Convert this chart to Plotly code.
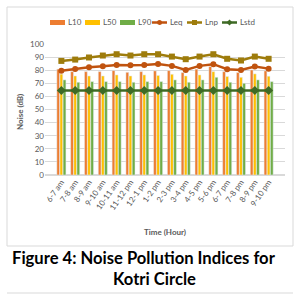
import plotly.graph_objects as go

categories = ["6-7 am", "7-8 am", "8-9 am", "9-10 am", "10-11 am", "11-12 pm", "12-1 pm", "1-2 pm",
              "2-3 pm", "3-4 pm", "4-5 pm", "5-6 pm", "6-7 pm", "7-8 pm", "8-9 pm", "9-10 pm"]
L10 = [80.8, 78.9, 78.9, 78.9, 79.7, 78.4, 78.9, 79.5, 79.7, 78.2, 80.8, 82.8, 78.9, 78.2, 80.2, 79.5]
L50 = [77.0, 75.6, 75.6, 75.6, 76.4, 75.6, 76.4, 76.0, 76.9, 75.6, 76.4, 78.9, 75.2, 74.6, 77.2, 75.4]
L90 = [72.6, 70.8, 71.3, 71.3, 71.3, 70.8, 71.3, 71.3, 72.6, 70.8, 72.6, 74.6, 70.8, 70.0, 72.6, 71.3]
Leq = [79.5, 81.0, 82.3, 83.0, 84.0, 83.8, 84.0, 84.8, 83.3, 80.2, 83.3, 84.6, 80.8, 80.2, 82.8, 81.2]
Lnp = [87.1, 88.1, 89.7, 91.2, 92.2, 91.2, 92.2, 92.2, 90.4, 88.4, 90.4, 92.2, 88.7, 87.4, 90.4, 88.7]
Lstd = [64.5] * 16

bar_names = ["L10", "L50", "L90"]
bar_values = [L10, L50, L90]
bar_colors = ["#ED7D31", "#FFC000", "#70AD47"]
line_names = ["Leq", "Lnp", "Lstd"]
line_values = [Leq, Lnp, Lstd]
line_colors = ["#C0530F", "#9E7C0C", "#3E6A25"]
line_symbols = ["circle", "square", "diamond"]

W, H = 300, 296
ML, MR, MT, MB = 45, 15, 44, 121
PW, PH = W - ML - MR, H - MT - MB


def px(x):
    return (x - ML) / PW


def py(y):
    return (H - MB - y) / PH


FONT = "Lato"
fig = go.Figure()
for n, v, c in zip(bar_names, bar_values, bar_colors):
    fig.add_bar(x=categories, y=v, name=n, marker_color=c)
for n, v, c, s in zip(line_names, line_values, line_colors, line_symbols):
    fig.add_scatter(x=categories, y=v, name=n, mode="lines+markers",
                    line=dict(color=c, width=2.5),
                    marker=dict(symbol=s, size=7 if s == "diamond" else 6))

shapes = [
    dict(type="rect", xref="paper", yref="paper", x0=px(7), x1=px(293), y0=py(246), y1=py(7),
         line=dict(color="#D9D9D9", width=1), layer="below"),
    dict(type="line", xref="paper", yref="paper", x0=px(7), x1=px(293), y0=py(293), y1=py(293),
         line=dict(color="#D9D9D9", width=1)),
]
annotations = []

# manual one-row legend
LY = 22.5
bar_x = [50, 85, 120]
for n, c, x0 in zip(bar_names, bar_colors, bar_x):
    shapes.append(dict(type="rect", xref="paper", yref="paper", x0=px(x0), x1=px(x0 + 15),
                       y0=py(LY + 2.5), y1=py(LY - 2.5), line=dict(width=0), fillcolor=c))
    annotations.append(dict(text=n, xref="paper", yref="paper", x=px(x0 + 16), y=py(LY),
                            xanchor="left", yanchor="middle", showarrow=False,
                            font=dict(size=8, color="#595959")))
line_x = [152, 187, 222]
for n, c, s, x0 in zip(line_names, line_colors, line_symbols, line_x):
    shapes.append(dict(type="line", xref="paper", yref="paper", x0=px(x0), x1=px(x0 + 15),
                       y0=py(LY), y1=py(LY), line=dict(color=c, width=2.5)))
    cx = x0 + 7.5
    if s == "circle":
        shapes.append(dict(type="circle", xref="paper", yref="paper", x0=px(cx - 2.5), x1=px(cx + 2.5),
                           y0=py(LY + 2.5), y1=py(LY - 2.5), line=dict(width=0), fillcolor=c))
    elif s == "square":
        shapes.append(dict(type="rect", xref="paper", yref="paper", x0=px(cx - 2.5), x1=px(cx + 2.5),
                           y0=py(LY + 2.5), y1=py(LY - 2.5), line=dict(width=0), fillcolor=c))
    else:
        path = "M {} {} L {} {} L {} {} L {} {} Z".format(
            px(cx - 3), py(LY), px(cx), py(LY - 3), px(cx + 3), py(LY), px(cx), py(LY + 3))
        shapes.append(dict(type="path", xref="paper", yref="paper", path=path,
                           line=dict(width=0), fillcolor=c))
    annotations.append(dict(text=n, xref="paper", yref="paper", x=px(x0 + 16), y=py(LY),
                            xanchor="left", yanchor="middle", showarrow=False,
                            font=dict(size=8, color="#595959")))

annotations += [
    dict(text="<b>Noise (dB)</b>", xref="paper", yref="paper", x=px(20), y=py(112),
         xanchor="center", yanchor="middle", textangle=-90, showarrow=False,
         font=dict(size=8, color="#595959")),
    dict(text="<b>Figure 4: Noise Pollution Indices for</b>", xref="paper", yref="paper",
         x=px(144), y=py(258), xanchor="center", yanchor="middle", showarrow=False,
         font=dict(family=FONT, size=16.6, color="black")),
    dict(text="<b>Kotri Circle</b>", xref="paper", yref="paper",
         x=px(154), y=py(279), xanchor="center", yanchor="middle", showarrow=False,
         font=dict(family=FONT, size=16.6, color="black")),
]

fig.update_layout(
    width=W, height=H,
    margin=dict(l=ML, r=MR, t=MT, b=MB),
    paper_bgcolor="white", plot_bgcolor="white",
    font=dict(family=FONT, size=8, color="#595959"),
    barmode="group", bargap=0.32, bargroupgap=0.1,
    showlegend=False,
    xaxis=dict(tickangle=-55, showgrid=False, showline=False, ticks="",
               tickfont=dict(size=8, color="#595959"),
               title=dict(text="<b>Time (Hour)</b>", font=dict(size=8, color="#595959"), standoff=18)),
    yaxis=dict(range=[0, 100], dtick=10, showgrid=True, gridcolor="#D9D9D9", gridwidth=1,
               zeroline=True, zerolinecolor="#D9D9D9", showline=False, ticks="",
               tickfont=dict(size=8, color="#595959")),
    shapes=shapes,
    annotations=annotations,
)

fig.write_html("out.html")
